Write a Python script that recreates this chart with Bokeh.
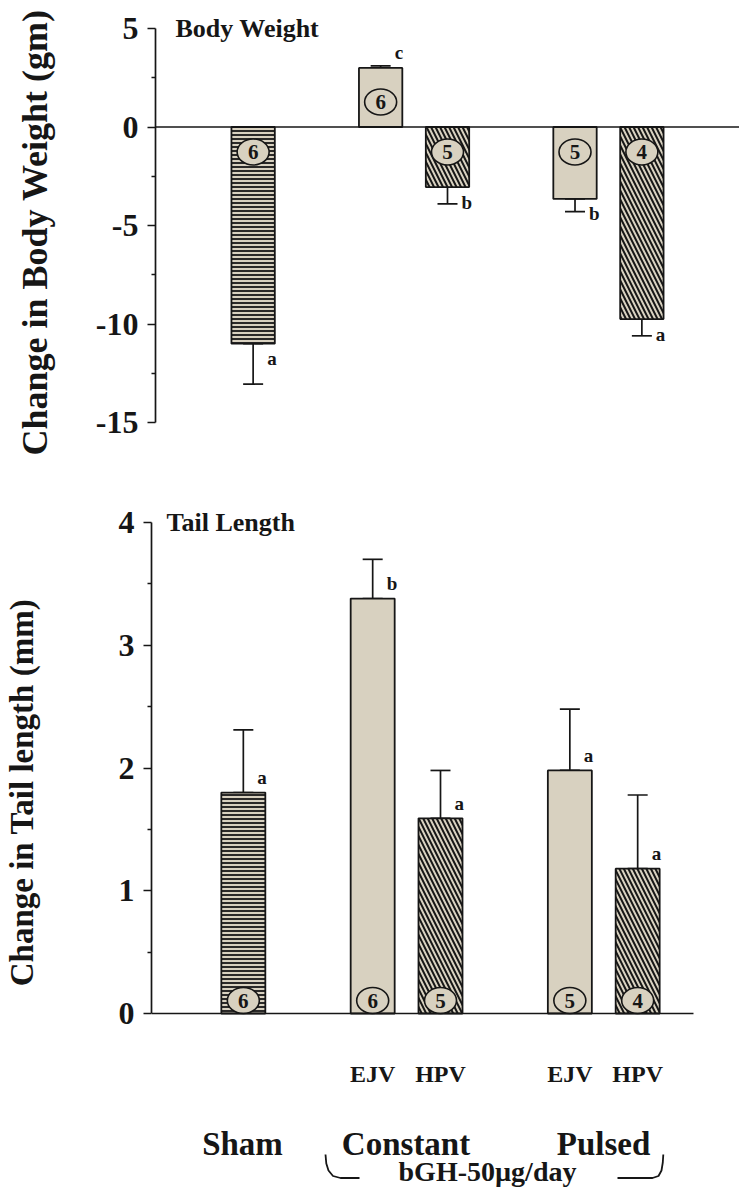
from bokeh.plotting import figure
from bokeh.models import (ColumnDataSource, FactorRange, Range1d, FixedTicker,
                          Span, Whisker, TeeHead)
from bokeh.layouts import column, row
from bokeh.embed import file_html
from bokeh.resources import INLINE
from bokeh.core.properties import value

# ---------------- data ----------------
groups = ["Sham", "Constant", "Constant", "Pulsed", "Pulsed"]
routes = ["", "EJV", "HPV", "EJV", "HPV"]
n_animals = [6, 6, 5, 5, 4]

bw_change = [-11.0, 3.0, -3.05, -3.65, -9.75]
bw_sem = [2.05, 0.1, 0.85, 0.65, 0.85]
bw_letters = ["a", "c", "b", "b", "a"]
bw_ticks = [-15, -10, -5, 0, 5]
bw_minor = [-12.5, -7.5, -2.5, 2.5]

tail_change = [1.8, 3.38, 1.59, 1.98, 1.18]
tail_sem = [0.51, 0.32, 0.39, 0.5, 0.6]
tail_letters = ["a", "b", "a", "a", "a"]
tail_ticks = [0, 1, 2, 3, 4]
tail_minor = [0.5, 1.5, 2.5, 3.5]

bw_title = "Body Weight"
tail_title = "Tail Length"
bw_ylabel = "Change in Body Weight (gm)"
tail_ylabel = "Change in Tail length (mm)"
dose_label = "bGH-50µg/day"

# ---------------- style / geometry ----------------
BG = "#d8d1c0"
INK = "#161616"
SERIF = "Liberation Serif"
W = 739
FP, GP = 0.13, 1.155
BAR_W = 0.733
HATCH = {"": "-", "EJV": " ", "HPV": "\\"}
HSCALE = {"": 4.0, "EJV": 6.0, "HPV": 9.0}
HWEIGHT = {"": 1.8, "EJV": 1.0, "HPV": 2.0}

factors = list(dict.fromkeys(zip(groups, routes)))

centers = []
pos, prev = 0.0, None
for g, r in factors:
    if prev is not None:
        pos += GP if g != prev else FP
    centers.append(pos + 0.5)
    pos += 1.0
    prev = g
FSPAN = pos

# top frame: page x 155..739 ; bottom frames: page x 150..729
L1, R1, HS1 = 155, 0, 1.15
L2, R2, HS2 = 150, 10, 1.03
U1 = (W - L1 - R1) / (FSPAN + 2 * HS1)
U2 = (W - L2 - R2) / (FSPAN + 2 * HS2)
xr1 = FactorRange(factors=factors, factor_padding=FP, group_padding=GP,
                  range_padding=HS1, range_padding_units="absolute")
xr2 = FactorRange(factors=factors, factor_padding=FP, group_padding=GP,
                  range_padding=HS2, range_padding_units="absolute")

H1, H2, H3 = 464, 656, 70          # page y: 0..464, 464..1120, 1120..1190
ZERO1, PPU1 = 126.5, 19.7          # top panel: page y of 0, px per gm
ZERO2, PPU2 = 1013.0, 122.75       # bottom panel: page y of 0, px per mm


def sx1(px):
    return (px - L1) / U1 - HS1


def sx2(px):
    return (px - L2) / U2 - HS2


def style_yaxis(ax, ticks, minor, label, size, standoff):
    ax.ticker = FixedTicker(ticks=ticks, minor_ticks=minor)
    ax.bounds = (ticks[0], ticks[-1])
    ax.major_label_overrides = {t: str(t) for t in ticks}
    ax.axis_line_color = INK
    ax.axis_line_width = 1.7
    ax.major_tick_line_color = INK
    ax.major_tick_line_width = 1.7
    ax.major_tick_out = 8
    ax.major_tick_in = 0
    ax.minor_tick_line_color = INK
    ax.minor_tick_line_width = 1.5
    ax.minor_tick_out = 4
    ax.minor_tick_in = 0
    ax.major_label_text_font = SERIF
    ax.major_label_text_font_style = "bold"
    ax.major_label_text_font_size = "32px"
    ax.major_label_text_color = INK
    ax.major_label_standoff = 9
    ax.axis_label = label
    ax.axis_label_text_font = SERIF
    ax.axis_label_text_font_style = "bold"
    ax.axis_label_text_font_size = size
    ax.axis_label_text_color = INK
    ax.axis_label_standoff = standoff


def make_source(vals, sems, letters, ppu, circ_px):
    sign = [1 if v >= 0 else -1 for v in vals]
    ends = [v + s * e for v, s, e in zip(vals, sign, sems)]
    return ColumnDataSource(dict(
        x=factors, val=vals,
        lo=[min(v, e) for v, e in zip(vals, ends)],
        hi=[max(v, e) for v, e in zip(vals, ends)],
        letter=letters,
        let_dy=[-s * 15 for s in sign],
        n=[str(k) for k in n_animals],
        cy=[s * circ_px / ppu for s in sign],
        hatch=[HATCH[r] for r in routes],
        hscale=[HSCALE[r] for r in routes],
        hweight=[HWEIGHT[r] for r in routes],
    ))


def draw_bars(p, src):
    head = dict(size=20, line_color=INK, line_width=1.7)
    p.add_layout(Whisker(source=src, base="x", lower="lo", upper="hi",
                         line_color=INK, line_width=1.7,
                         lower_head=TeeHead(**head), upper_head=TeeHead(**head)))
    p.vbar(x="x", top="val", bottom=0, width=BAR_W, source=src,
           fill_color=BG, line_color=INK, line_width=1.8,
           hatch_pattern="hatch", hatch_scale="hscale", hatch_weight="hweight",
           hatch_color=INK)
    p.ellipse(x="x", y="cy", width=32, height=26, width_units="screen",
              height_units="screen", fill_color=BG, line_color=INK,
              line_width=1.6, source=src)
    p.text(x="x", y="cy", text="n", text_align="center", text_baseline="middle",
           text_font=value(SERIF), text_font_style="bold", text_font_size="21px",
           text_color=INK, source=src)
    p.text(x="x", y="val", text="letter", x_offset=14, y_offset="let_dy",
           text_align="left", text_baseline="middle", text_font=value(SERIF),
           text_font_style="bold", text_font_size="19px", text_color=INK,
           source=src)


def base_fig(height, xr, left, right, y_range, with_y=True):
    p = figure(width=W, height=height, x_range=xr, y_range=y_range,
               output_backend="svg", toolbar_location=None,
               x_axis_location=None,
               y_axis_location="left" if with_y else None,
               min_border_left=left, min_border_right=right,
               min_border_top=0, min_border_bottom=0,
               background_fill_color=None, border_fill_color=None,
               outline_line_color=None)
    p.grid.grid_line_color = None
    return p


def txt(p, x, y, text, size, **kw):
    p.text(x=[x], y=[y], text=[text], text_font=value(SERIF),
           text_font_style="bold", text_font_size=size, text_color=INK, **kw)


# ---------------- top panel: body weight ----------------
p1 = base_fig(H1, xr1, L1, R1, Range1d((ZERO1 - H1) / PPU1, ZERO1 / PPU1))
style_yaxis(p1.yaxis[0], bw_ticks, bw_minor, bw_ylabel, "36px", 38)
src1 = make_source(bw_change, bw_sem, bw_letters, PPU1, 25)
draw_bars(p1, src1)
p1.add_layout(Span(location=0, dimension="width", line_color=INK, line_width=1.7))
txt(p1, sx1(175), bw_ticks[-1], bw_title, "26px",
    text_align="left", text_baseline="alphabetic")

# ---------------- bottom panel: tail length ----------------
TOP2 = H1
BOT2 = H1 + H2
p2 = base_fig(H2, xr2, L2, R2, Range1d((ZERO2 - BOT2) / PPU2, (ZERO2 - TOP2) / PPU2))
style_yaxis(p2.yaxis[0], tail_ticks, tail_minor, tail_ylabel, "33px", 76)
src2 = make_source(tail_change, tail_sem, tail_letters, PPU2, 13)
draw_bars(p2, src2)

# baseline from the axis to just beyond the last bar
p2.line(x=[-HS2, centers[-1] + 0.93], y=[0, 0], line_color=INK, line_width=1.7)

# route labels below the baseline
p2.text(x=factors, y=[0] * len(factors), text=routes, y_offset=60,
        text_align="center", text_baseline="middle", text_font=value(SERIF),
        text_font_style="bold", text_font_size="24px", text_color=INK)

txt(p2, sx2(165), tail_ticks[-1], tail_title, "26px",
    text_align="left", text_baseline="middle")

# ---------------- treatment labels + dose bracket ----------------
p3 = base_fig(H3, xr2, L2, R2, Range1d(0, H3), with_y=False)


def py3(py):
    return BOT2 + H3 - py


seen = []
for g in groups:
    if g not in seen:
        seen.append(g)
gx = []
for g in seen:
    cs = [c for (gg, _), c in zip(factors, centers) if gg == g]
    gx.append(sum(cs) / len(cs))
p3.text(x=gx, y=[py3(1143)] * len(seen), text=seen,
        text_align="center", text_baseline="middle", text_font=value(SERIF),
        text_font_style="bold", text_font_size="33px", text_color=INK)

left_hook = [(325, 1154), (325.8, 1163), (328, 1170), (332.5, 1175.5),
             (340, 1177.5), (359, 1177.5)]
right_hook = [(617, 1177.5), (652, 1177.5), (658, 1175.5), (661, 1170),
              (662.3, 1162), (662.8, 1154)]
for hook in (left_hook, right_hook):
    p3.line([sx2(a) for a, _ in hook], [py3(b) for _, b in hook],
            line_color=INK, line_width=1.8)
txt(p3, sx2(487), py3(1171), dose_label, "28px", text_align="center",
    text_baseline="middle")

layout = column(row(p1), row(p2), row(p3), spacing=0)
html = file_html(layout, INLINE, "bGH body weight and tail length")
html = html.replace("<body>", '<body style="background-color:%s">' % BG, 1)
open("out.html", "w").write(html)
